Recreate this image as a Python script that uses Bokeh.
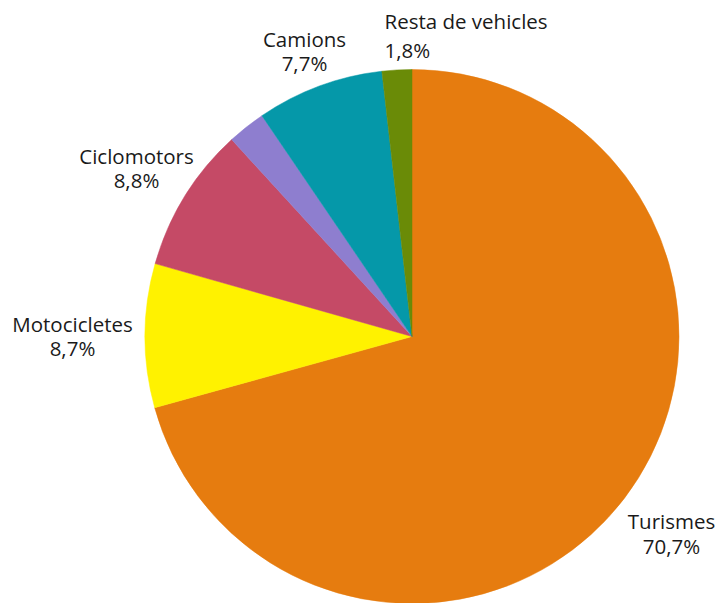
import math
from bokeh.plotting import figure
from bokeh.models import Range1d, ColumnDataSource
from bokeh.core.properties import value
from bokeh.embed import file_html
from bokeh.resources import INLINE

# Data (clockwise from 12 o'clock)
categories = ["Turismes", "Motocicletes", "Ciclomotors", "", "Camions", "Resta de vehicles"]
shares = [70.7, 8.7, 8.8, 2.3, 7.7, 1.8]
pct_labels = ["70,7%", "8,7%", "8,8%", "", "7,7%", "1,8%"]
colors = ["#E67C0F", "#FFF200", "#C54A66", "#8E7ECF", "#0598A9", "#6A8B07"]

W, H = 717, 603

def sy(y):  # screen y -> data y
    return H - y

p = figure(width=W, height=H, output_backend="svg", toolbar_location=None,
           x_range=Range1d(0, W), y_range=Range1d(0, H), min_border=0)
p.axis.visible = False
p.grid.visible = False
p.outline_line_color = None
p.background_fill_color = "white"
p.border_fill_color = "white"

cx, cy, r = 411.5, sy(336), 267

total = sum(shares)
starts, ends = [], []
acc = 0.0
for s in shares:
    a0 = math.pi / 2 - 2 * math.pi * acc / total
    acc += s
    a1 = math.pi / 2 - 2 * math.pi * acc / total
    starts.append(a0)
    ends.append(a1)

src = ColumnDataSource(dict(start=starts, end=ends, color=colors, cat=categories))
p.wedge(x=cx, y=cy, radius=r, start_angle="start", end_angle="end", direction="clock",
        fill_color="color", line_color="color", line_width=0.5, source=src)

# label placement (screen coords): (x, baseline1, baseline2, align)
label_pos = {
    "Turismes": (671, 520, 545, "center"),
    "Motocicletes": (72, 323, 347, "center"),
    "Ciclomotors": (136, 155, 179, "center"),
    "Camions": (304, 38, 62, "center"),
    "Resta de vehicles": (384, 20, 49, "left"),
}
for cat, pct in zip(categories, pct_labels):
    if not cat:
        continue
    x, b1, b2, al = label_pos[cat]
    for txt, b in ((cat, b1), (pct, b2)):
        p.text(x=[x], y=[sy(b)], text=[txt], text_align=al, text_baseline="alphabetic",
               text_font=value("Open Sans"), text_font_size="20.5px", text_color="#1a1a1a")

open("out.html", "w").write(file_html(p, INLINE))
